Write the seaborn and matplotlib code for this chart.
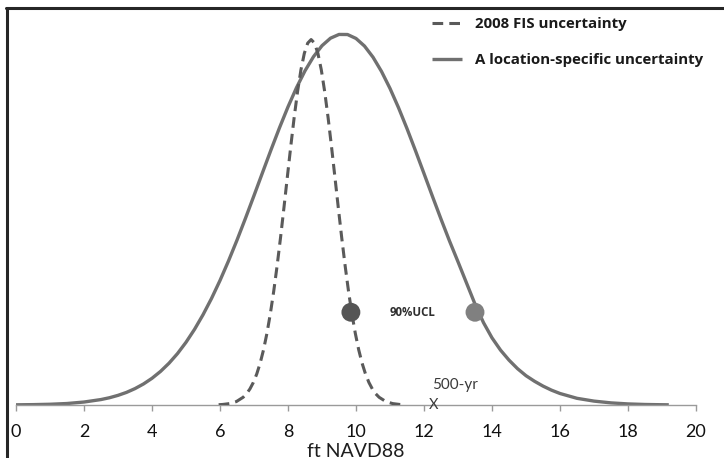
import matplotlib
matplotlib.use("Agg")
import matplotlib.pyplot as plt
from matplotlib.lines import Line2D
import seaborn as sns
import pandas as pd

# ---- data ----
solid_x = [0.0, 0.5, 1.0, 1.5, 2.0, 2.5, 2.75, 3.0, 3.25, 3.5, 3.75, 4.0, 4.25, 4.5,
           4.75, 5.0, 5.25, 5.5, 5.75, 6.0, 6.25, 6.5, 6.75, 7.0, 7.25, 7.5, 7.75,
           8.0, 8.25, 8.5, 8.75, 9.0, 9.25, 9.5, 9.75, 10.0, 10.25, 10.5, 10.75,
           11.0, 11.25, 11.5, 11.75, 12.0, 12.25, 12.5, 12.75, 13.0, 13.25, 13.5,
           13.75, 14.0, 14.25, 14.5, 14.75, 15.0, 15.25, 15.5, 15.75, 16.0, 16.5,
           17.0, 17.5, 18.0, 18.5, 19.0, 19.2]
solid_y = [0.0005, 0.001, 0.002, 0.004, 0.008, 0.0147, 0.0196, 0.026, 0.034, 0.0442,
           0.0567, 0.072, 0.0905, 0.1126, 0.1386, 0.169, 0.2038, 0.2432, 0.2871,
           0.3356, 0.3883, 0.4444, 0.5035, 0.5645, 0.6263, 0.6877, 0.7473, 0.8036,
           0.8553, 0.9008, 0.9389, 0.9685, 0.9887, 0.9988, 0.9986, 0.988, 0.9675,
           0.9375, 0.8991, 0.8533, 0.8015, 0.745, 0.6853, 0.6239, 0.562, 0.5011,
           0.4421, 0.3861, 0.329, 0.272, 0.222, 0.181, 0.148, 0.121, 0.098, 0.079,
           0.064, 0.051, 0.040, 0.031, 0.018, 0.0105, 0.0057, 0.0029, 0.0014,
           0.0007, 0.0005]

dash_x = [5.96, 6.08, 6.28, 6.48, 6.68, 6.78, 6.88, 6.98, 7.08, 7.18, 7.28, 7.38,
          7.48, 7.58, 7.68, 7.78, 7.88, 7.98, 8.08, 8.18, 8.28, 8.38, 8.48, 8.58,
          8.68, 8.78, 8.88, 8.98, 9.08, 9.18, 9.28, 9.38, 9.48, 9.58, 9.68, 9.78,
          9.88, 9.98, 10.08, 10.18, 10.28, 10.38, 10.48, 10.58, 10.68, 10.88, 11.08,
          11.28, 11.4]
dash_y = [0.0008, 0.0015, 0.0038, 0.0092, 0.0208, 0.0302, 0.0433, 0.0607, 0.0834,
          0.1125, 0.1487, 0.193, 0.2457, 0.3066, 0.3755, 0.4509, 0.5313, 0.6141,
          0.6961, 0.774, 0.8441, 0.9031, 0.9478, 0.9755, 0.985, 0.9755, 0.9478,
          0.9031, 0.8441, 0.774, 0.6961, 0.6141, 0.5313, 0.4509, 0.3755, 0.3066,
          0.2457, 0.193, 0.1487, 0.1125, 0.0834, 0.0607, 0.0433, 0.0302, 0.0208,
          0.0092, 0.0038, 0.0015, 0.0008]

series_labels = ["2008 FIS uncertainty", "A location-specific uncertainty"]
ucl_x = [9.85, 13.5]
ucl_y = [0.25, 0.25]
ucl_label = "90%UCL"
ucl_label_x = 11.0
yr500_x = 12.24
yr500_label = "500-yr"
x_ticks = [0, 2, 4, 6, 8, 10, 12, 14, 16, 18, 20]
x_label = "ft NAVD88"

# ---- style ----
sns.set_style("white")
plt.rcParams['font.family'] = ['Lato', 'DejaVu Sans']

W, H = 724, 458
fig = plt.figure(figsize=(W / 100, H / 100), dpi=100)
ax_left, ax_right, ax_bottom, ax_top = 16, 696, 405, 8
ax = fig.add_axes([ax_left / W, (H - ax_bottom) / H,
                   (ax_right - ax_left) / W, (ax_bottom - ax_top) / H])

solid_df = pd.DataFrame({"x": solid_x, "y": solid_y})
dash_df = pd.DataFrame({"x": dash_x, "y": dash_y})

sns.lineplot(data=dash_df, x="x", y="y", ax=ax, color="#5a5a5a", lw=2.2,
             label=series_labels[0], estimator=None, zorder=3)
dash_line = ax.lines[-1]
dash_line.set_dashes((3.5, 2.0))
dash_line.set_dash_capstyle("butt")

sns.lineplot(data=solid_df, x="x", y="y", ax=ax, color="#707070", lw=2.4,
             label=series_labels[1], estimator=None, zorder=2)
ax.lines[-1].set_solid_capstyle("butt")

pts = pd.DataFrame({"x": ucl_x, "y": ucl_y, "k": ["a", "b"]})
sns.scatterplot(data=pts, x="x", y="y", hue="k", palette=["#555555", "#808080"],
                s=185, edgecolor="none", ax=ax, legend=False, zorder=5)

ax.text(ucl_label_x, ucl_y[0], ucl_label, fontsize=8.3, fontweight="bold",
        family=["Open Sans", "DejaVu Sans"], color="#2e2e2e", va="center", ha="left")
ax.text(yr500_x, 0.055, yr500_label, fontsize=11, color="#3a3a3a", va="center", ha="left")
ax.text(yr500_x - 0.1, 0.0, "X", fontsize=10.5, color="#3a3a3a", va="center", ha="left")

ax.set_xlim(0, 20)
ax.set_ylim(0, (ax_bottom - ax_top) / 371)
ax.set_xticks(x_ticks)
ax.set_xticklabels([str(t) for t in x_ticks])
ax.set_yticks([])
ax.set_xlabel(x_label, fontsize=14, color="#1e1e1e", labelpad=2.5)
ax.set_ylabel("")

for s in ["top", "right", "left"]:
    ax.spines[s].set_visible(False)
ax.spines["bottom"].set_color("#9a9a9a")
ax.spines["bottom"].set_linewidth(1.0)
ax.tick_params(axis="x", direction="out", length=4.5, width=1, color="#9a9a9a",
               labelsize=13, labelcolor="#111111", pad=9, bottom=True)

leg = ax.legend(loc="upper left", bbox_to_anchor=(432 / W, 1 - 17 / H),
                bbox_transform=fig.transFigure, frameon=False, borderpad=0,
                borderaxespad=0, handlelength=2.0, handletextpad=0.85,
                labelspacing=1.45, prop={"family": ["Open Sans", "DejaVu Sans"],
                                         "weight": "bold", "size": 10.8})
for t in leg.get_texts():
    t.set_color("#1a1a1a")

# screenshot frame lines
fig.add_artist(Line2D([6 / W, 1], [1 - 8 / H, 1 - 8 / H], transform=fig.transFigure,
                      color="#262626", lw=2.2))
fig.add_artist(Line2D([7 / W, 7 / W], [0, 1 - 8 / H], transform=fig.transFigure,
                      color="#262626", lw=2.2))

fig.savefig("out.png", dpi=100)
